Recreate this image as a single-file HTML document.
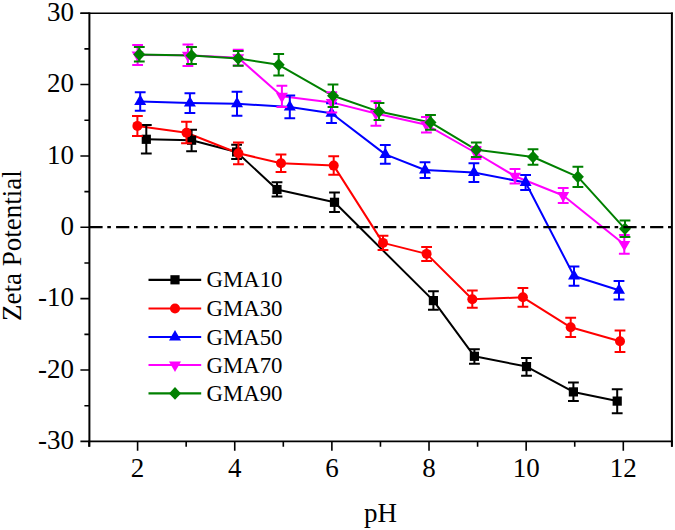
<!DOCTYPE html>
<html><head><meta charset="utf-8"><title>Zeta Potential vs pH</title>
<style>
html,body{margin:0;padding:0;background:#fff;}
body{width:675px;height:530px;overflow:hidden;font-family:"Liberation Serif",serif;}
svg{display:block;}
</style></head>
<body>
<svg width="675" height="530" viewBox="0 0 675 530">
<rect width="675" height="530" fill="#fff"/>
<path d="M80.4 13.2H672.9" stroke="#000" stroke-width="1.6" fill="none"/>
<path d="M89.4 12.4V446.7" stroke="#000" stroke-width="2" fill="none"/>
<path d="M671.9 12.4V446.7" stroke="#000" stroke-width="2" fill="none"/>
<path d="M88.4 441.4H672.9" stroke="#000" stroke-width="1.6" fill="none"/>
<path d="M80.4 441.4H89.4M84.4 405.72H89.4M80.4 370.03H89.4M84.4 334.35H89.4M80.4 298.67H89.4M84.4 262.98H89.4M80.4 227.3H89.4M84.4 191.62H89.4M80.4 155.93H89.4M84.4 120.25H89.4M80.4 84.57H89.4M84.4 48.88H89.4M80.4 13.2H89.4M89.03 441.4V446.7M137.6 441.4V450.7M186.17 441.4V446.7M234.74 441.4V450.7M283.31 441.4V446.7M331.88 441.4V450.7M380.45 441.4V446.7M429.02 441.4V450.7M477.59 441.4V446.7M526.16 441.4V450.7M574.73 441.4V446.7M623.3 441.4V450.7M671.87 441.4V446.7" stroke="#000" stroke-width="1.6" fill="none"/>
<g font-family="Liberation Serif" font-size="27" fill="#000"><text x="74" y="449" text-anchor="end">-30</text><text x="74" y="377.63" text-anchor="end">-20</text><text x="74" y="306.27" text-anchor="end">-10</text><text x="74" y="234.9" text-anchor="end">0</text><text x="74" y="163.53" text-anchor="end">10</text><text x="74" y="92.17" text-anchor="end">20</text><text x="74" y="20.8" text-anchor="end">30</text><text x="137.6" y="476.5" text-anchor="middle">2</text><text x="234.74" y="476.5" text-anchor="middle">4</text><text x="331.88" y="476.5" text-anchor="middle">6</text><text x="429.02" y="476.5" text-anchor="middle">8</text><text x="526.16" y="476.5" text-anchor="middle">10</text><text x="623.3" y="476.5" text-anchor="middle">12</text></g>
<text x="380.6" y="521.8" text-anchor="middle" font-family="Liberation Serif" font-size="27">pH</text>
<text transform="translate(21.2 245.7) rotate(-90)" text-anchor="middle" font-family="Liberation Serif" font-size="27">Zeta Potential</text>
<polyline points="146.3,139.3 191.6,140.2 236.6,152 277,189.5 334.5,202.3 433.4,300.6 474.4,356.3 526.5,366.6 573.4,391.9 617.2,401.1" fill="none" stroke="#000000" stroke-width="2.0" stroke-linejoin="round"/>
<polyline points="137.4,125.9 186.5,132.8 238.4,153.3 281,163.2 333.7,165.6 383,242.9 426.6,253.9 472.3,299.3 522.9,297.3 570.7,327.3 620,341.2" fill="none" stroke="#ff0000" stroke-width="2.0" stroke-linejoin="round"/>
<polyline points="140.2,101.5 189.9,103.1 237,103.75 289.8,107 331.5,113.2 385.3,154.4 425,170 473.9,172.6 525.6,182.5 574,276.05 619,290.25" fill="none" stroke="#0000ff" stroke-width="2.0" stroke-linejoin="round"/>
<polyline points="137.6,54.95 187.9,55.3 238.2,57.65 281.9,96.35 331.8,102.4 375.9,113.5 426.4,124.8 476,153 515,176.2 563.2,195.5 624.3,244.45" fill="none" stroke="#ff00ff" stroke-width="2.0" stroke-linejoin="round"/>
<polyline points="139.3,54.4 191.5,55.5 238.2,58.4 278.7,64.85 333,95.8 379,111.6 430.5,122.4 476.3,149.8 533,157 577.9,176.85 625,228.8" fill="none" stroke="#008000" stroke-width="2.0" stroke-linejoin="round"/>
<path d="M146.3 124.9V153.6M140.9 124.9H151.7M140.9 153.6H151.7M191.6 129.7V151.2M186.2 129.7H197M186.2 151.2H197M236.6 144.8V159.1M231.2 144.8H242M231.2 159.1H242M277 182.2V196.5M271.6 182.2H282.4M271.6 196.5H282.4M334.5 192.4V212.1M329.1 192.4H339.9M329.1 212.1H339.9M433.4 291.3V309.8M428 291.3H438.8M428 309.8H438.8M474.4 349.2V363.8M469 349.2H479.8M469 363.8H479.8M526.5 357.9V375.7M521.1 357.9H531.9M521.1 375.7H531.9M573.4 382.6V400.9M568 382.6H578.8M568 400.9H578.8M617.2 389.2V413.2M611.8 389.2H622.6M611.8 413.2H622.6" fill="none" stroke="#000000" stroke-width="2.0"/>
<rect x="141.7" y="134.7" width="9.2" height="9.2" fill="#000000"/>
<rect x="187" y="135.6" width="9.2" height="9.2" fill="#000000"/>
<rect x="232" y="147.4" width="9.2" height="9.2" fill="#000000"/>
<rect x="272.4" y="184.9" width="9.2" height="9.2" fill="#000000"/>
<rect x="329.9" y="197.7" width="9.2" height="9.2" fill="#000000"/>
<rect x="428.8" y="296" width="9.2" height="9.2" fill="#000000"/>
<rect x="469.8" y="351.7" width="9.2" height="9.2" fill="#000000"/>
<rect x="521.9" y="362" width="9.2" height="9.2" fill="#000000"/>
<rect x="568.8" y="387.3" width="9.2" height="9.2" fill="#000000"/>
<rect x="612.6" y="396.5" width="9.2" height="9.2" fill="#000000"/>
<path d="M137.4 116.1V135.9M132 116.1H142.8M132 135.9H142.8M186.5 121.8V143.2M181.1 121.8H191.9M181.1 143.2H191.9M238.4 142.6V164.3M233 142.6H243.8M233 164.3H243.8M281 154.5V172M275.6 154.5H286.4M275.6 172H286.4M333.7 156.3V174.8M328.3 156.3H339.1M328.3 174.8H339.1M383 235.8V249.9M377.6 235.8H388.4M377.6 249.9H388.4M426.6 247.1V261.1M421.2 247.1H432M421.2 261.1H432M472.3 290.6V307.7M466.9 290.6H477.7M466.9 307.7H477.7M522.9 288.1V306.8M517.5 288.1H528.3M517.5 306.8H528.3M570.7 317.7V337.1M565.3 317.7H576.1M565.3 337.1H576.1M620 330.5V352.1M614.6 330.5H625.4M614.6 352.1H625.4" fill="none" stroke="#ff0000" stroke-width="2.0"/>
<circle cx="137.4" cy="125.9" r="5" fill="#ff0000"/>
<circle cx="186.5" cy="132.8" r="5" fill="#ff0000"/>
<circle cx="238.4" cy="153.3" r="5" fill="#ff0000"/>
<circle cx="281" cy="163.2" r="5" fill="#ff0000"/>
<circle cx="333.7" cy="165.6" r="5" fill="#ff0000"/>
<circle cx="383" cy="242.9" r="5" fill="#ff0000"/>
<circle cx="426.6" cy="253.9" r="5" fill="#ff0000"/>
<circle cx="472.3" cy="299.3" r="5" fill="#ff0000"/>
<circle cx="522.9" cy="297.3" r="5" fill="#ff0000"/>
<circle cx="570.7" cy="327.3" r="5" fill="#ff0000"/>
<circle cx="620" cy="341.2" r="5" fill="#ff0000"/>
<path d="M140.2 92.25V110.8M134.8 92.25H145.6M134.8 110.8H145.6M189.9 93.2V113M184.5 93.2H195.3M184.5 113H195.3M237 91.8V115.7M231.6 91.8H242.4M231.6 115.7H242.4M289.8 95.6V118.3M284.4 95.6H295.2M284.4 118.3H295.2M331.5 103.3V123.1M326.1 103.3H336.9M326.1 123.1H336.9M385.3 145V163.8M379.9 145H390.7M379.9 163.8H390.7M425 162.2V177.9M419.6 162.2H430.4M419.6 177.9H430.4M473.9 163.3V181.9M468.5 163.3H479.3M468.5 181.9H479.3M525.6 174.9V190.1M520.2 174.9H531M520.2 190.1H531M574 266.4V285.7M568.6 266.4H579.4M568.6 285.7H579.4M619 281.1V299.4M613.6 281.1H624.4M613.6 299.4H624.4" fill="none" stroke="#0000ff" stroke-width="2.0"/>
<path d="M140.2 94.6L146.2 105L134.2 105Z" fill="#0000ff"/>
<path d="M189.9 96.2L195.9 106.6L183.9 106.6Z" fill="#0000ff"/>
<path d="M237 96.85L243 107.25L231 107.25Z" fill="#0000ff"/>
<path d="M289.8 100.1L295.8 110.5L283.8 110.5Z" fill="#0000ff"/>
<path d="M331.5 106.3L337.5 116.7L325.5 116.7Z" fill="#0000ff"/>
<path d="M385.3 147.5L391.3 157.9L379.3 157.9Z" fill="#0000ff"/>
<path d="M425 163.1L431 173.5L419 173.5Z" fill="#0000ff"/>
<path d="M473.9 165.7L479.9 176.1L467.9 176.1Z" fill="#0000ff"/>
<path d="M525.6 175.6L531.6 186L519.6 186Z" fill="#0000ff"/>
<path d="M574 269.15L580 279.55L568 279.55Z" fill="#0000ff"/>
<path d="M619 283.35L625 293.75L613 293.75Z" fill="#0000ff"/>
<path d="M137.6 45V64.9M132.2 45H143M132.2 64.9H143M187.9 44.6V66.05M182.5 44.6H193.3M182.5 66.05H193.3M238.2 49.7V65.6M232.8 49.7H243.6M232.8 65.6H243.6M281.9 85.7V107M276.5 85.7H287.3M276.5 107H287.3M331.8 92.2V112.6M326.4 92.2H337.2M326.4 112.6H337.2M375.9 101.3V125.7M370.5 101.3H381.3M370.5 125.7H381.3M426.4 117V132.6M421 117H431.8M421 132.6H431.8M476 147V159M470.6 147H481.4M470.6 159H481.4M515 169V183.5M509.6 169H520.4M509.6 183.5H520.4M563.2 188.1V202.9M557.8 188.1H568.6M557.8 202.9H568.6M624.3 235.1V253.8M618.9 235.1H629.7M618.9 253.8H629.7" fill="none" stroke="#ff00ff" stroke-width="2.0"/>
<path d="M131.6 51.45L143.6 51.45L137.6 61.85Z" fill="#ff00ff"/>
<path d="M181.9 51.8L193.9 51.8L187.9 62.2Z" fill="#ff00ff"/>
<path d="M232.2 54.15L244.2 54.15L238.2 64.55Z" fill="#ff00ff"/>
<path d="M275.9 92.85L287.9 92.85L281.9 103.25Z" fill="#ff00ff"/>
<path d="M325.8 98.9L337.8 98.9L331.8 109.3Z" fill="#ff00ff"/>
<path d="M369.9 110L381.9 110L375.9 120.4Z" fill="#ff00ff"/>
<path d="M420.4 121.3L432.4 121.3L426.4 131.7Z" fill="#ff00ff"/>
<path d="M470 149.5L482 149.5L476 159.9Z" fill="#ff00ff"/>
<path d="M509 172.7L521 172.7L515 183.1Z" fill="#ff00ff"/>
<path d="M557.2 192L569.2 192L563.2 202.4Z" fill="#ff00ff"/>
<path d="M618.3 240.95L630.3 240.95L624.3 251.35Z" fill="#ff00ff"/>
<path d="M139.3 47.1V61.6M133.9 47.1H144.7M133.9 61.6H144.7M191.5 47.1V63.9M186.1 47.1H196.9M186.1 63.9H196.9M238.2 51.1V65.7M232.8 51.1H243.6M232.8 65.7H243.6M278.7 54.1V75.6M273.3 54.1H284.1M273.3 75.6H284.1M333 84.6V106.9M327.6 84.6H338.4M327.6 106.9H338.4M379 103.1V120.1M373.6 103.1H384.4M373.6 120.1H384.4M430.5 115V129.8M425.1 115H435.9M425.1 129.8H435.9M476.3 142.5V157.1M470.9 142.5H481.7M470.9 157.1H481.7M533 149.2V164.7M527.6 149.2H538.4M527.6 164.7H538.4M577.9 166.8V186.9M572.5 166.8H583.3M572.5 186.9H583.3M625 220.6V237M619.6 220.6H630.4M619.6 237H630.4" fill="none" stroke="#008000" stroke-width="2.0"/>
<path d="M139.3 48.1L145.3 54.4L139.3 60.7L133.3 54.4Z" fill="#008000"/>
<path d="M191.5 49.2L197.5 55.5L191.5 61.8L185.5 55.5Z" fill="#008000"/>
<path d="M238.2 52.1L244.2 58.4L238.2 64.7L232.2 58.4Z" fill="#008000"/>
<path d="M278.7 58.55L284.7 64.85L278.7 71.15L272.7 64.85Z" fill="#008000"/>
<path d="M333 89.5L339 95.8L333 102.1L327 95.8Z" fill="#008000"/>
<path d="M379 105.3L385 111.6L379 117.9L373 111.6Z" fill="#008000"/>
<path d="M430.5 116.1L436.5 122.4L430.5 128.7L424.5 122.4Z" fill="#008000"/>
<path d="M476.3 143.5L482.3 149.8L476.3 156.1L470.3 149.8Z" fill="#008000"/>
<path d="M533 150.7L539 157L533 163.3L527 157Z" fill="#008000"/>
<path d="M577.9 170.55L583.9 176.85L577.9 183.15L571.9 176.85Z" fill="#008000"/>
<path d="M625 222.5L631 228.8L625 235.1L619 228.8Z" fill="#008000"/>
<path d="M89.4 227.1H671.9" stroke="#000" stroke-width="2.1" fill="none" stroke-dasharray="13.2 4.7 3.6 5.2"/>
<path d="M148.5 279.8H201.2" stroke="#000000" stroke-width="2.2"/>
<rect x="170.4" y="275.2" width="9.2" height="9.2" fill="#000000"/>
<text x="206.5" y="287.4" font-family="Liberation Serif" font-size="22.8">GMA10</text>
<path d="M148.5 308.5H201.2" stroke="#ff0000" stroke-width="2.2"/>
<circle cx="175" cy="308.5" r="5" fill="#ff0000"/>
<text x="206.5" y="316.1" font-family="Liberation Serif" font-size="22.8">GMA30</text>
<path d="M148.5 337H201.2" stroke="#0000ff" stroke-width="2.2"/>
<path d="M175 330.1L181 340.5L169 340.5Z" fill="#0000ff"/>
<text x="206.5" y="344.6" font-family="Liberation Serif" font-size="22.8">GMA50</text>
<path d="M148.5 365H201.2" stroke="#ff00ff" stroke-width="2.2"/>
<path d="M169 361.5L181 361.5L175 371.9Z" fill="#ff00ff"/>
<text x="206.5" y="372.6" font-family="Liberation Serif" font-size="22.8">GMA70</text>
<path d="M148.5 393.4H201.2" stroke="#008000" stroke-width="2.2"/>
<path d="M175 387.1L181 393.4L175 399.7L169 393.4Z" fill="#008000"/>
<text x="206.5" y="401" font-family="Liberation Serif" font-size="22.8">GMA90</text>
</svg>
</body></html>
